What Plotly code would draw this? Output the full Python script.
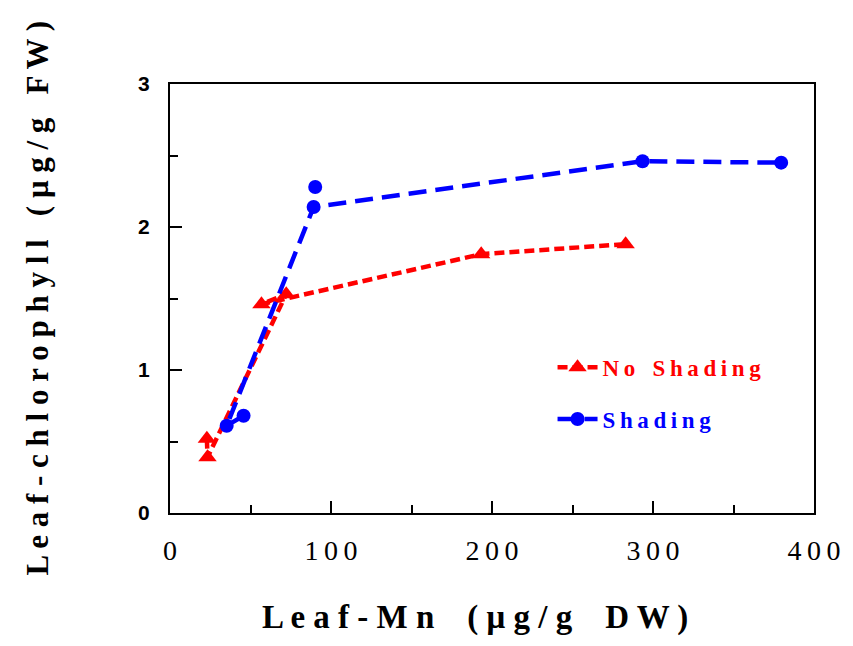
import plotly.graph_objects as go

# ---- data ----
no_shading_x = [22.9, 23.3, 72.2, 56.8, 193.3, 283.0]
no_shading_y = [0.52, 0.39, 1.53, 1.46, 1.81, 1.88]

shading_x = [45.7, 35.2, 89.2, 293.5, 379.6]
shading_y = [0.68, 0.61, 2.14, 2.46, 2.45]
shading_extra_x = [90.2]
shading_extra_y = [2.28]

x_tick_vals = [0, 100, 200, 300, 400]
x_tick_text = ["0", "100", "200", "300", "400"]
y_tick_vals = [0, 1, 2, 3]
y_tick_text = ["0", "1", "2", "3"]

x_title = "Leaf-Mn (μg/g DW)"
y_title = "Leaf-chlorophyll (μg/g FW)"
name_no = "No Shading"
name_sh = "Shading"


def spaced(s, gap="\u2009"):
    return gap.join(s)


def spaced_words(s, gap=" ", word_gap="   "):
    return word_gap.join(gap.join(w) for w in s.split(" "))


RED = "#ff0000"
BLUE = "#0000ff"
SERIF = "Liberation Serif"
SANS = "Liberation Sans"

fig = go.Figure()
fig.add_trace(go.Scatter(
    x=no_shading_x, y=no_shading_y, mode="lines+markers",
    name=f"<b><span style='color:{RED}'>{spaced_words(name_no, chr(8201), '   ')}</span></b>",
    line=dict(color=RED, width=4.5, dash="10px,5px"),
    marker=dict(symbol="triangle-up", size=16, color=RED),
    legendgroup="a",
))
fig.add_trace(go.Scatter(
    x=shading_x, y=shading_y, mode="lines+markers",
    name=f"<b><span style='color:{BLUE}'>{spaced(name_sh)}</span></b>",
    line=dict(color=BLUE, width=4.5, dash="18px,9px"),
    marker=dict(symbol="circle", size=14, color=BLUE),
    legendgroup="b",
))
fig.add_trace(go.Scatter(
    x=shading_extra_x, y=shading_extra_y, mode="markers",
    marker=dict(symbol="circle", size=14, color=BLUE),
    showlegend=False, legendgroup="b",
))

fig.update_layout(
    width=853, height=646,
    margin=dict(l=170, r=34, t=84, b=133),
    paper_bgcolor="white", plot_bgcolor="white",
    showlegend=True,
    legend=dict(
        x=0.594, y=0.39, xanchor="left", yanchor="top",
        bgcolor="rgba(0,0,0,0)",
        font=dict(family=SERIF, size=23),
        tracegroupgap=19, traceorder="grouped",
        itemwidth=40,
    ),
    xaxis=dict(
        range=[0, 400], tickvals=x_tick_vals,
        ticktext=[spaced(t) for t in x_tick_text],
        showgrid=False, zeroline=False,
        showline=True, linecolor="black", linewidth=2, mirror=True,
        ticks="inside", ticklen=12, tickwidth=1.5, tickcolor="black",
        minor=dict(ticks="inside", ticklen=8, tickwidth=1.5, tickcolor="black", dtick=50),
        tickfont=dict(family=SERIF, size=28, color="black"),
        ticklabelstandoff=11,
    ),
    yaxis=dict(
        range=[0, 3], tickvals=y_tick_vals,
        ticktext=[f"<b>{t}</b>" for t in y_tick_text],
        showgrid=False, zeroline=False,
        showline=True, linecolor="black", linewidth=2, mirror=True,
        ticks="inside", ticklen=12, tickwidth=1.5, tickcolor="black",
        minor=dict(ticks="inside", ticklen=8, tickwidth=1.5, tickcolor="black", dtick=0.5),
        tickfont=dict(family=SANS, size=21, color="black"),
        ticklabelstandoff=14,
    ),
    annotations=[
        dict(text="<b>" + spaced_words(x_title, " ", "    ") + "</b>", xref="paper", yref="paper",
             x=0.474, y=-104 / 429, xanchor="center", yanchor="middle",
             showarrow=False,
             font=dict(family=SERIF, size=33, color="black")),
        dict(text="<b>" + spaced_words(y_title, " ", "   ") + "</b>", xref="paper", yref="paper",
             x=-134 / 649, y=0.5, xanchor="center", yanchor="middle",
             textangle=-90, showarrow=False,
             font=dict(family=SERIF, size=31, color="black")),
    ],
)

fig.write_html("out.html")
